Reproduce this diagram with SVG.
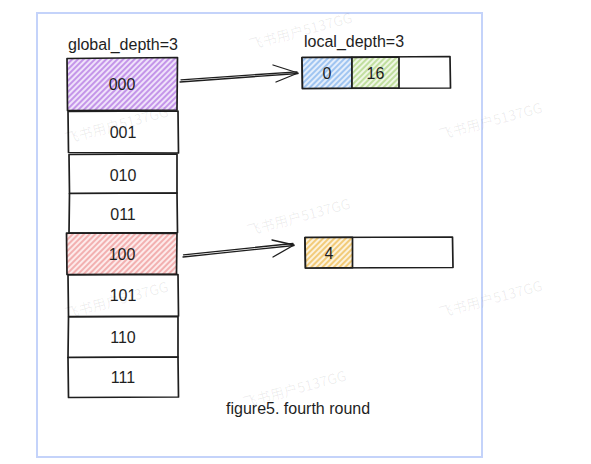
<svg xmlns="http://www.w3.org/2000/svg" width="591" height="464" viewBox="0 0 591 464">
  <style>
    .box{stroke:#1e1e1e;stroke-width:1.7;stroke-linejoin:round;fill:#fff}
    .lbl{font-family:"Liberation Sans",Arial,sans-serif;font-size:16px;fill:#1e1e1e;text-anchor:middle}
    .title{font-family:"Liberation Sans",Arial,sans-serif;font-size:16px;fill:#1e1e1e}
    .conn{stroke:#1e1e1e;stroke-width:1.3;fill:none;stroke-linecap:round;stroke-linejoin:round}
    .wm{font-family:"Noto Sans CJK SC","Liberation Sans",sans-serif;font-size:14px;fill:#000;fill-opacity:0.07;text-anchor:middle}
  </style>
  <defs>
    <pattern id="hPurple" patternUnits="userSpaceOnUse" width="4" height="4" patternTransform="rotate(45)">
      <rect width="4" height="4" fill="#efe2fa"/><line x1="1" y1="0" x2="1" y2="4" stroke="#bd88e6" stroke-width="1.7"/>
    </pattern>
    <pattern id="hRed" patternUnits="userSpaceOnUse" width="4" height="4" patternTransform="rotate(45)">
      <rect width="4" height="4" fill="#fdeaea"/><line x1="1" y1="0" x2="1" y2="4" stroke="#f0a2a2" stroke-width="1.6"/>
    </pattern>
    <pattern id="hBlue" patternUnits="userSpaceOnUse" width="4" height="4" patternTransform="rotate(45)">
      <rect width="4" height="4" fill="#e4eefb"/><line x1="1" y1="0" x2="1" y2="4" stroke="#8fbbef" stroke-width="1.6"/>
    </pattern>
    <pattern id="hGreen" patternUnits="userSpaceOnUse" width="4" height="4" patternTransform="rotate(45)">
      <rect width="4" height="4" fill="#eff7e5"/><line x1="1" y1="0" x2="1" y2="4" stroke="#b6d98e" stroke-width="1.6"/>
    </pattern>
    <pattern id="hOrange" patternUnits="userSpaceOnUse" width="4" height="4" patternTransform="rotate(45)">
      <rect width="4" height="4" fill="#fcf2dc"/><line x1="1" y1="0" x2="1" y2="4" stroke="#f0c260" stroke-width="1.6"/>
    </pattern>
  </defs>

  <rect x="0" y="0" width="591" height="464" fill="#fff"/>
  <rect id="frame" x="37" y="13" width="445" height="444" fill="#fff" stroke="#c4d3fa" stroke-width="2"/>

  <text class="title" x="68" y="50">global_depth=3</text>
  <text class="title" x="304" y="47">local_depth=3</text>
  <text class="title" x="226" y="414">figure5. fourth round</text>

  <g id="dir000"><path class="box" style="fill:url(#hPurple)" d="M67,58.5 L177.5,57.5 L177,110 L67.5,110.5 Z"/><text class="lbl" x="122" y="90">000</text></g>
  <g id="dir001"><path class="box" d="M68,111.5 L178,111 L178.5,153 L68.5,152.5 Z"/><text class="lbl" x="123" y="138">001</text></g>
  <g id="dir010"><path class="box" d="M69,154.5 L177,154 L177,193 L69.5,193.5 Z"/><text class="lbl" x="123" y="181">010</text></g>
  <g id="dir011"><path class="box" d="M69.5,193.5 L177,193 L177.5,232.5 L69,233 Z"/><text class="lbl" x="123" y="220">011</text></g>
  <g id="dir100"><path class="box" style="fill:url(#hRed)" d="M66.5,233 L177,233.5 L176.5,274 L67,274.5 Z"/><text class="lbl" x="122" y="260">100</text></g>
  <g id="dir101"><path class="box" d="M68,275 L178,274.5 L178.5,316 L68.5,316.5 Z"/><text class="lbl" x="123" y="301">101</text></g>
  <g id="dir110"><path class="box" d="M68.5,317 L178,316.5 L178,357 L68,357.5 Z"/><text class="lbl" x="123" y="343">110</text></g>
  <g id="dir111"><path class="box" d="M68,357.5 L178,357 L178.5,397 L68.5,397.5 Z"/><text class="lbl" x="123" y="383">111</text></g>

  <g id="bucketA">
    <path class="box" d="M302,57.5 L450,56.5 L450.5,88 L302.5,88.5 Z"/>
    <path class="box" style="fill:url(#hBlue)" d="M302,57.5 L352,57.3 L352,88.2 L302.5,88.5 Z"/>
    <path class="box" style="fill:url(#hGreen)" d="M352,57.3 L399,57 L399,88.2 L352,88.2 Z"/>
    <text class="lbl" x="327" y="79">0</text>
    <text class="lbl" x="375.5" y="79">16</text>
  </g>
  <g id="bucketB">
    <path class="box" d="M305,237.5 L452.5,237 L453,267.5 L305.5,268 Z"/>
    <path class="box" style="fill:url(#hOrange)" d="M305,237.5 L352.5,237.3 L352.5,267.7 L305.5,268 Z"/>
    <text class="lbl" x="329" y="259">4</text>
  </g>

  <g id="connectors">
    <path class="conn" d="M180,82 L298,73.5 M181,79.8 L297,71.8"/>
    <path class="conn" d="M273,65 L298,73 L276,82"/>
    <path class="conn" d="M183,257 L294,245.5 M183.5,254.8 L293,243.5"/>
    <path class="conn" d="M272,240 L294,245 L273,257"/>
  </g>

  <g id="watermark">
    <text class="wm" transform="translate(302,36) rotate(-15)">飞书用户5137GG</text>
    <text class="wm" transform="translate(118,130) rotate(-15)">飞书用户5137GG</text>
    <text class="wm" transform="translate(492,126) rotate(-15)">飞书用户5137GG</text>
    <text class="wm" transform="translate(300,222) rotate(-15)">飞书用户5137GG</text>
    <text class="wm" transform="translate(118,305) rotate(-15)">飞书用户5137GG</text>
    <text class="wm" transform="translate(492,304) rotate(-15)">飞书用户5137GG</text>
    <text class="wm" transform="translate(296,394) rotate(-15)">飞书用户5137GG</text>
  </g>
</svg>
